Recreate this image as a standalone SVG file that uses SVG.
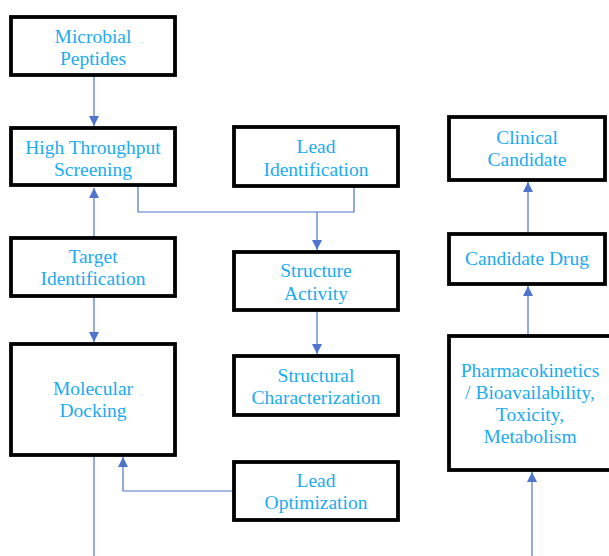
<svg xmlns="http://www.w3.org/2000/svg" width="609" height="556" viewBox="0 0 609 556">
<defs>
<style>
.box{fill:#fff;stroke:#000;stroke-width:3.8}
.t{font-family:"Liberation Serif","Times New Roman",serif;font-size:19.5px;fill:#1AABF0;text-anchor:middle}
.c{fill:none;stroke:#4F74CC;stroke-width:1.2}
</style>
<marker id="ah" viewBox="0 0 10 10" refX="10" refY="5" markerWidth="10" markerHeight="10" markerUnits="userSpaceOnUse" orient="auto">
<path d="M0,0 L10,5 L0,10 Z" fill="#4F74CC"/>
</marker>
</defs>
<rect width="609" height="556" fill="#fff"/>
<g id="connectors">
<line class="c" x1="94" y1="76" x2="94" y2="126" marker-end="url(#ah)"/>
<line class="c" x1="94" y1="237" x2="94" y2="188" marker-end="url(#ah)"/>
<line class="c" x1="94" y1="297" x2="94" y2="342" marker-end="url(#ah)"/>
<polyline class="c" points="138,186 138,212 354,212 354,187"/>
<line class="c" x1="317" y1="212" x2="317" y2="250" marker-end="url(#ah)"/>
<line class="c" x1="317" y1="311" x2="317" y2="354" marker-end="url(#ah)"/>
<polyline class="c" points="233,491 123,491 123,457" marker-end="url(#ah)"/>
<line class="c" x1="94" y1="456" x2="94" y2="556"/>
<line class="c" x1="528" y1="233" x2="528" y2="182" marker-end="url(#ah)"/>
<line class="c" x1="528" y1="335" x2="528" y2="286" marker-end="url(#ah)"/>
<line class="c" x1="532" y1="556" x2="532" y2="472" marker-end="url(#ah)"/>
</g>
<g id="microbial-peptides">
<rect class="box" x="11" y="17" width="164" height="58"/>
<text class="t" x="93" y="43">Microbial</text>
<text class="t" x="93" y="65">Peptides</text>
</g>
<g id="high-throughput-screening">
<rect class="box" x="11" y="128" width="164" height="57"/>
<text class="t" x="93" y="154">High Throughput</text>
<text class="t" x="93" y="176">Screening</text>
</g>
<g id="lead-identification">
<rect class="box" x="234" y="127" width="164" height="59"/>
<text class="t" x="316" y="153">Lead</text>
<text class="t" x="316" y="176">Identification</text>
</g>
<g id="target-identification">
<rect class="box" x="11" y="238" width="164" height="58"/>
<text class="t" x="93" y="263">Target</text>
<text class="t" x="93" y="285">Identification</text>
</g>
<g id="structure-activity">
<rect class="box" x="234" y="252" width="164" height="58"/>
<text class="t" x="316" y="277">Structure</text>
<text class="t" x="316" y="300">Activity</text>
</g>
<g id="molecular-docking">
<rect class="box" x="11" y="344" width="164" height="111"/>
<text class="t" x="93" y="395">Molecular</text>
<text class="t" x="93" y="417">Docking</text>
</g>
<g id="structural-characterization">
<rect class="box" x="234" y="356" width="164" height="59"/>
<text class="t" x="316" y="382">Structural</text>
<text class="t" x="316" y="404">Characterization</text>
</g>
<g id="lead-optimization">
<rect class="box" x="234" y="462" width="164" height="58"/>
<text class="t" x="316" y="487">Lead</text>
<text class="t" x="316" y="509">Optimization</text>
</g>
<g id="clinical-candidate">
<rect class="box" x="449" y="117" width="156" height="63"/>
<text class="t" x="527" y="144">Clinical</text>
<text class="t" x="527" y="166">Candidate</text>
</g>
<g id="candidate-drug">
<rect class="box" x="449" y="234" width="156" height="50"/>
<text class="t" x="527" y="265">Candidate Drug</text>
</g>
<g id="pharmacokinetics">
<rect class="box" x="449" y="336" width="162" height="134"/>
<text class="t" x="530" y="377">Pharmacokinetics</text>
<text class="t" x="530" y="399">/ Bioavailability,</text>
<text class="t" x="530" y="421">Toxicity,</text>
<text class="t" x="530" y="443">Metabolism</text>
</g>
</svg>
